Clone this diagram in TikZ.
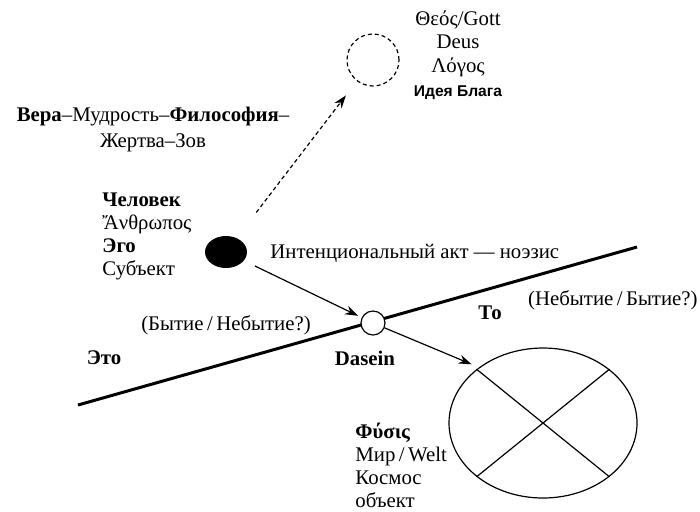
\documentclass[tikz,border=0pt]{standalone}
\usepackage{fontspec}
\setmainfont{Liberation Serif}
\newfontfamily\sansf{Liberation Sans}
\usetikzlibrary{arrows.meta,shapes.geometric}
\tikzset{
  lbl/.style={inner sep=0pt, font=\fontsize{10.4}{11.5}\selectfont},
  blk/.style={lbl, align=left},
  thin line/.style={line width=0.6pt},
  arr/.style={thin line, -{Stealth[length=6.5pt,width=4.5pt]}},
  dsh/.style={line width=0.6pt, dash pattern=on 2pt off 1.5pt},
}
\begin{document}
\begin{tikzpicture}[x=0.5pt,y=-0.5pt]
\useasboundingbox (0,0) rectangle (700,511);
% main line
\coordinate (L1) at (78,405);
\coordinate (L2) at (637,247);
\draw[line width=1.5pt] (L1) -- (L2);
% nodes
\node[circle, draw, dsh, minimum size=26pt, inner sep=0pt] (theos) at (373,60) {};
\node[ellipse, fill=black, minimum width=21pt, minimum height=16pt, inner sep=0pt] (ego) at (226,252) {};
\node[circle, draw, thin line, fill=white, minimum size=12pt, inner sep=0pt] (dasein) at (373,323) {};
\node[ellipse, draw, thin line, minimum width=94pt, minimum height=75pt, inner sep=0pt] (world) at (543,423) {};
\draw[thin line] (world.39) -- (world.219);
\draw[thin line] (world.141) -- (world.321);
% connectors
\draw[dsh, -{Stealth[length=6.5pt,width=4.5pt]}, shorten <=16pt, shorten >=9pt] (ego) -- (theos);
\draw[arr, shorten <=6pt, shorten >=2pt] (ego) -- (dasein);
\draw[arr, shorten >=4pt] (dasein) -- (world.139);
% texts
\node[lbl, align=center, font=\fontsize{10.4}{11.8}\selectfont] (theostxt) at (458,55) {Θεός/Gott\\Deus\\Λόγος\\{\sansf\bfseries\fontsize{7.8}{10}\selectfont Идея Блага}};
\node[lbl, align=center, font=\fontsize{10.4}{13}\selectfont] (vera) at (153,129) {\textbf{Вера}–Мудрость–\textbf{Философия}–\\Жертва–Зов};
\node[blk, anchor=west] (man) at (102,236) {\textbf{Человек}\\Ἄνθρωπος\\\textbf{Эго}\\Субъект};
\node[lbl, anchor=west] (intent) at (270,253) {Интенциональный акт — ноэзис};
\node[lbl] (being1) at (226,325) {(Бытие\,/\,Небытие?)};
\node[lbl] (eto) at (104,358) {\textbf{Это}};
\node[lbl] (daseintxt) at (365,358) {\textbf{Dasein}};
\node[lbl] (to) at (490,313) {\textbf{То}};
\node[lbl, anchor=east] (being2) at (698,300) {(Небытие\,/\,Бытие?)};
\node[blk, anchor=west] (physis) at (355,465) {\textbf{Φύσις}\\Мир\,/\,Welt\\Космос\\объект};
\end{tikzpicture}
\end{document}
